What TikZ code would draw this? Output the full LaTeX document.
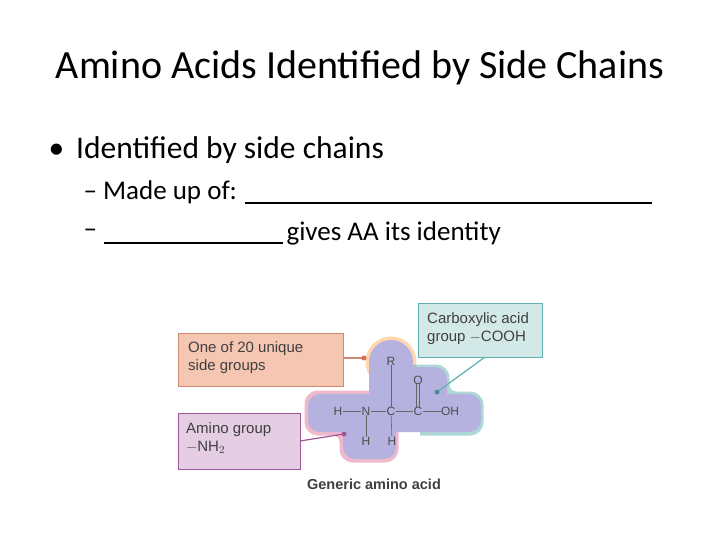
\documentclass[tikz,border=0pt]{standalone}
\usepackage{fontspec}
\setmainfont{Carlito}
\newfontfamily\arial{Liberation Sans}
\definecolor{blobc}{HTML}{B6B2E0}
\definecolor{salf}{HTML}{F5C6B2}\definecolor{sald}{HTML}{D08A70}
\definecolor{tealf}{HTML}{D3E9E8}\definecolor{teald}{HTML}{5FB0B0}
\definecolor{purf}{HTML}{E5CDE3}\definecolor{purd}{HTML}{A0569A}
\begin{document}
\begin{tikzpicture}[x=1pt,y=-1pt,
  lbl/.style={font=\arial\fontsize{15}{18}\selectfont,text=black!75,align=left,anchor=north west,inner sep=0pt},
  mol/.style={font=\arial\fontsize{12}{14}\selectfont,text=black!70,inner sep=0pt},
  blob/.style={fill=blobc,draw=none,rounded corners=12pt}]
\useasboundingbox (0,0) rectangle (720,540);
\node (title) at (360,68) {\fontsize{40}{46}\selectfont Amino Acids Identified by Side Chains};
\node[anchor=west] (b1) at (45,150) {\fontsize{31.5}{36}\selectfont\textbullet\hspace{12pt}Identified by side chains};
\node[anchor=west] (s1) at (80,192) {\fontsize{27}{32}\selectfont -- Made up of:};
\draw[line width=1.8pt] (245,203) -- (652,203);
\node[anchor=west] (s2) at (80,233) {\fontsize{27}{32}\selectfont --};
\draw[line width=1.4pt] (104,243) -- (283,243);
\node[anchor=west] (s3) at (283,233) {\fontsize{27}{32}\selectfont gives AA its identity};
% glows
\begin{scope}[line width=7pt,opacity=0.45]
\draw[orange!70] (391,362) circle (22);
\draw[teal!70, rounded corners=10pt] (405,392) -- (405,368) -- (446,368) -- (446,395) -- (480,395) -- (480,432) -- (420,432);
\draw[purple!60, rounded corners=10pt] (395,432) -- (395,459) -- (343,459) -- (343,432) -- (308,432) -- (308,394) -- (370,394);
\end{scope}
% blob
\fill[blob] (308,394) rectangle (481,432);
\fill[blob] (343,400) rectangle (396,459);
\fill[blob] (404,367) rectangle (447,410);
\fill[blobc] (369,362) rectangle (413,420);
\fill[blobc] (391,362) circle (22);
% molecule
\node[mol] (H1) at (338,411) {H};
\node[mol] (N) at (366,411) {N};
\node[mol] (C1) at (391,411) {C};
\node[mol] (C2) at (418,411) {C};
\node[mol] (OH) at (450,411) {OH};
\node[mol] (R) at (391,361) {R};
\node[mol] (O) at (418,380) {O};
\node[mol] (H2) at (366,441) {H};
\node[mol] (H3) at (392,441) {H};
\begin{scope}[black!60,line width=0.6pt]
\draw (H1) -- (N); \draw (N) -- (C1); \draw (C1) -- (C2); \draw (C2) -- (OH);
\draw (R) -- (C1); \draw (N) -- (H2); \draw (C1) -- (H3);
\draw ([xshift=-1.5pt]O.south) -- ([xshift=-1.5pt]C2.north);
\draw ([xshift=1.5pt]O.south) -- ([xshift=1.5pt]C2.north);
\end{scope}
% boxes
\node[draw=sald,fill=salf,line width=1pt,minimum width=165pt,minimum height=53pt,anchor=north west] (side) at (178,333) {};
\node[lbl] at (188,341) {One of 20 unique\\side groups};
\node[draw=teald,fill=tealf,line width=1pt,minimum width=124pt,minimum height=54pt,anchor=north west] (carb) at (418,303) {};
\node[lbl] at (427,312) {Carboxylic acid\\group $-$COOH};
\node[draw=purd,fill=purf,line width=1pt,minimum width=122pt,minimum height=56pt,anchor=north west] (amino) at (178,413) {};
\node[lbl] at (186,422) {Amino group\\$-$NH$_2$};
\node[font=\arial\bfseries\fontsize{14.5}{17}\selectfont,text=black!75] (cap) at (374,484) {Generic amino acid};
% connectors
\coordinate (d1) at (364,358); \coordinate (d2) at (437,392); \coordinate (d3) at (344,434);
\draw[sald,line width=1.2pt] (side.east |- d1) -- (d1); \fill[sald!80!red] (d1) circle (2.5);
\draw[teald,line width=1.2pt] (485,357) -- (d2); \fill[teald!80!black] (d2) circle (2.5);
\draw[purd,line width=1.2pt] (300,441) -- (d3); \fill[purd] (d3) circle (2.5);
\end{tikzpicture}
\end{document}
